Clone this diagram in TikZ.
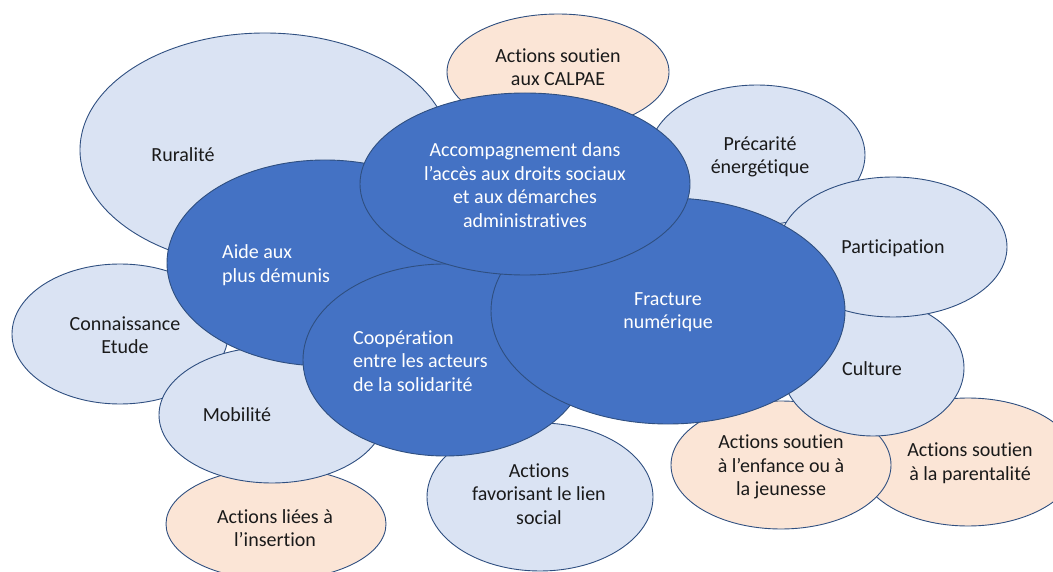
\documentclass[tikz,border=0pt]{standalone}
\usepackage{fontspec}
\setmainfont{Carlito}[Ligatures={NoCommon}]
\usetikzlibrary{shapes.geometric}
\definecolor{dk}{HTML}{4472C4}
\definecolor{lt}{HTML}{DAE3F3}
\definecolor{pc}{HTML}{FBE5D6}
\definecolor{ol}{HTML}{2F4F80}
\definecolor{tx}{HTML}{1A1A1A}
\tikzset{
  bub/.style={ellipse, draw=ol, line width=0.9pt, inner sep=0pt},
  bl/.style={bub, fill=lt},
  bp/.style={bub, fill=pc},
  bd/.style={bub, fill=dk},
  txt/.style={font=\fontsize{20}{23.5}\selectfont, align=center, text=tx, inner sep=0pt},
  wtxt/.style={txt, text=white}
}
\begin{document}
\begin{tikzpicture}[x=1pt,y=-1pt]
\useasboundingbox (0,0) rectangle (1053,572);
% outer bubbles
\node[bl, minimum width=370, minimum height=234] (rur) at (265,150) {};
\node[txt] (rurt) at (183,155) {Ruralité};
\node[bp, minimum width=222, minimum height=116] (cal) at (558,72) {};
\node[txt] (calt) at (558,67) {Actions soutien\\aux CALPAE};
\node[bp, minimum width=218, minimum height=128] (par) at (968,462) {};
\node[txt] (part) at (970,463) {Actions soutien\\à la parentalité};
\node[bp, minimum width=220, minimum height=128] (enf) at (781,465) {};
\node[txt] (enft) at (781,467) {Actions soutien\\à l’enfance ou à\\la jeunesse};
\node[bl, minimum width=182, minimum height=136] (cul) at (873,368) {};
\node[txt] (cult) at (872,369) {Culture};
\node[bl, minimum width=216, minimum height=140] (pre) at (757,155) {};
\node[txt] (pret) at (760,157) {Précarité\\énergétique};
\node[bl, minimum width=228, minimum height=140] (pa) at (893,247) {};
\node[txt] (pat) at (893,248) {Participation};
\node[bl, minimum width=216, minimum height=140] (con) at (120,334) {};
\node[txt] (cont) at (125,335) {Connaissance\\Etude};
\node[bp, minimum width=220, minimum height=112] (ins) at (276,524) {};
\node[txt] (inst) at (275,528) {Actions liées à\\l’insertion};
\node[bl, minimum width=226, minimum height=136] (mob) at (272,415) {};
\node[txt] (mobt) at (237,415) {Mobilité};
\node[bl, minimum width=226, minimum height=148] (lien) at (540,497) {};
\node[txt] (lient) at (539,494) {Actions\\favorisant le lien\\social};
% central bubbles
\node[bd, minimum width=316, minimum height=206] (aide) at (325,263) {};
\node[wtxt, align=left, anchor=west] (aidet) at (222,265) {Aide aux\\plus démunis};
\node[bd, minimum width=284, minimum height=192] (coop) at (445,360) {};
\node[wtxt, align=left, anchor=west] (coopt) at (353,361) {Coopération\\entre les acteurs\\de la solidarité};
\node[bd, minimum width=354, minimum height=226] (fra) at (668,311) {};
\node[wtxt] (frat) at (668,312) {Fracture\\numérique};
\node[bd, minimum width=330, minimum height=182] (acc) at (525,184) {};
\node[wtxt] (acct) at (525,185) {Accompagnement dans\\l’accès aux droits sociaux\\et aux démarches\\administratives};
\end{tikzpicture}
\end{document}
